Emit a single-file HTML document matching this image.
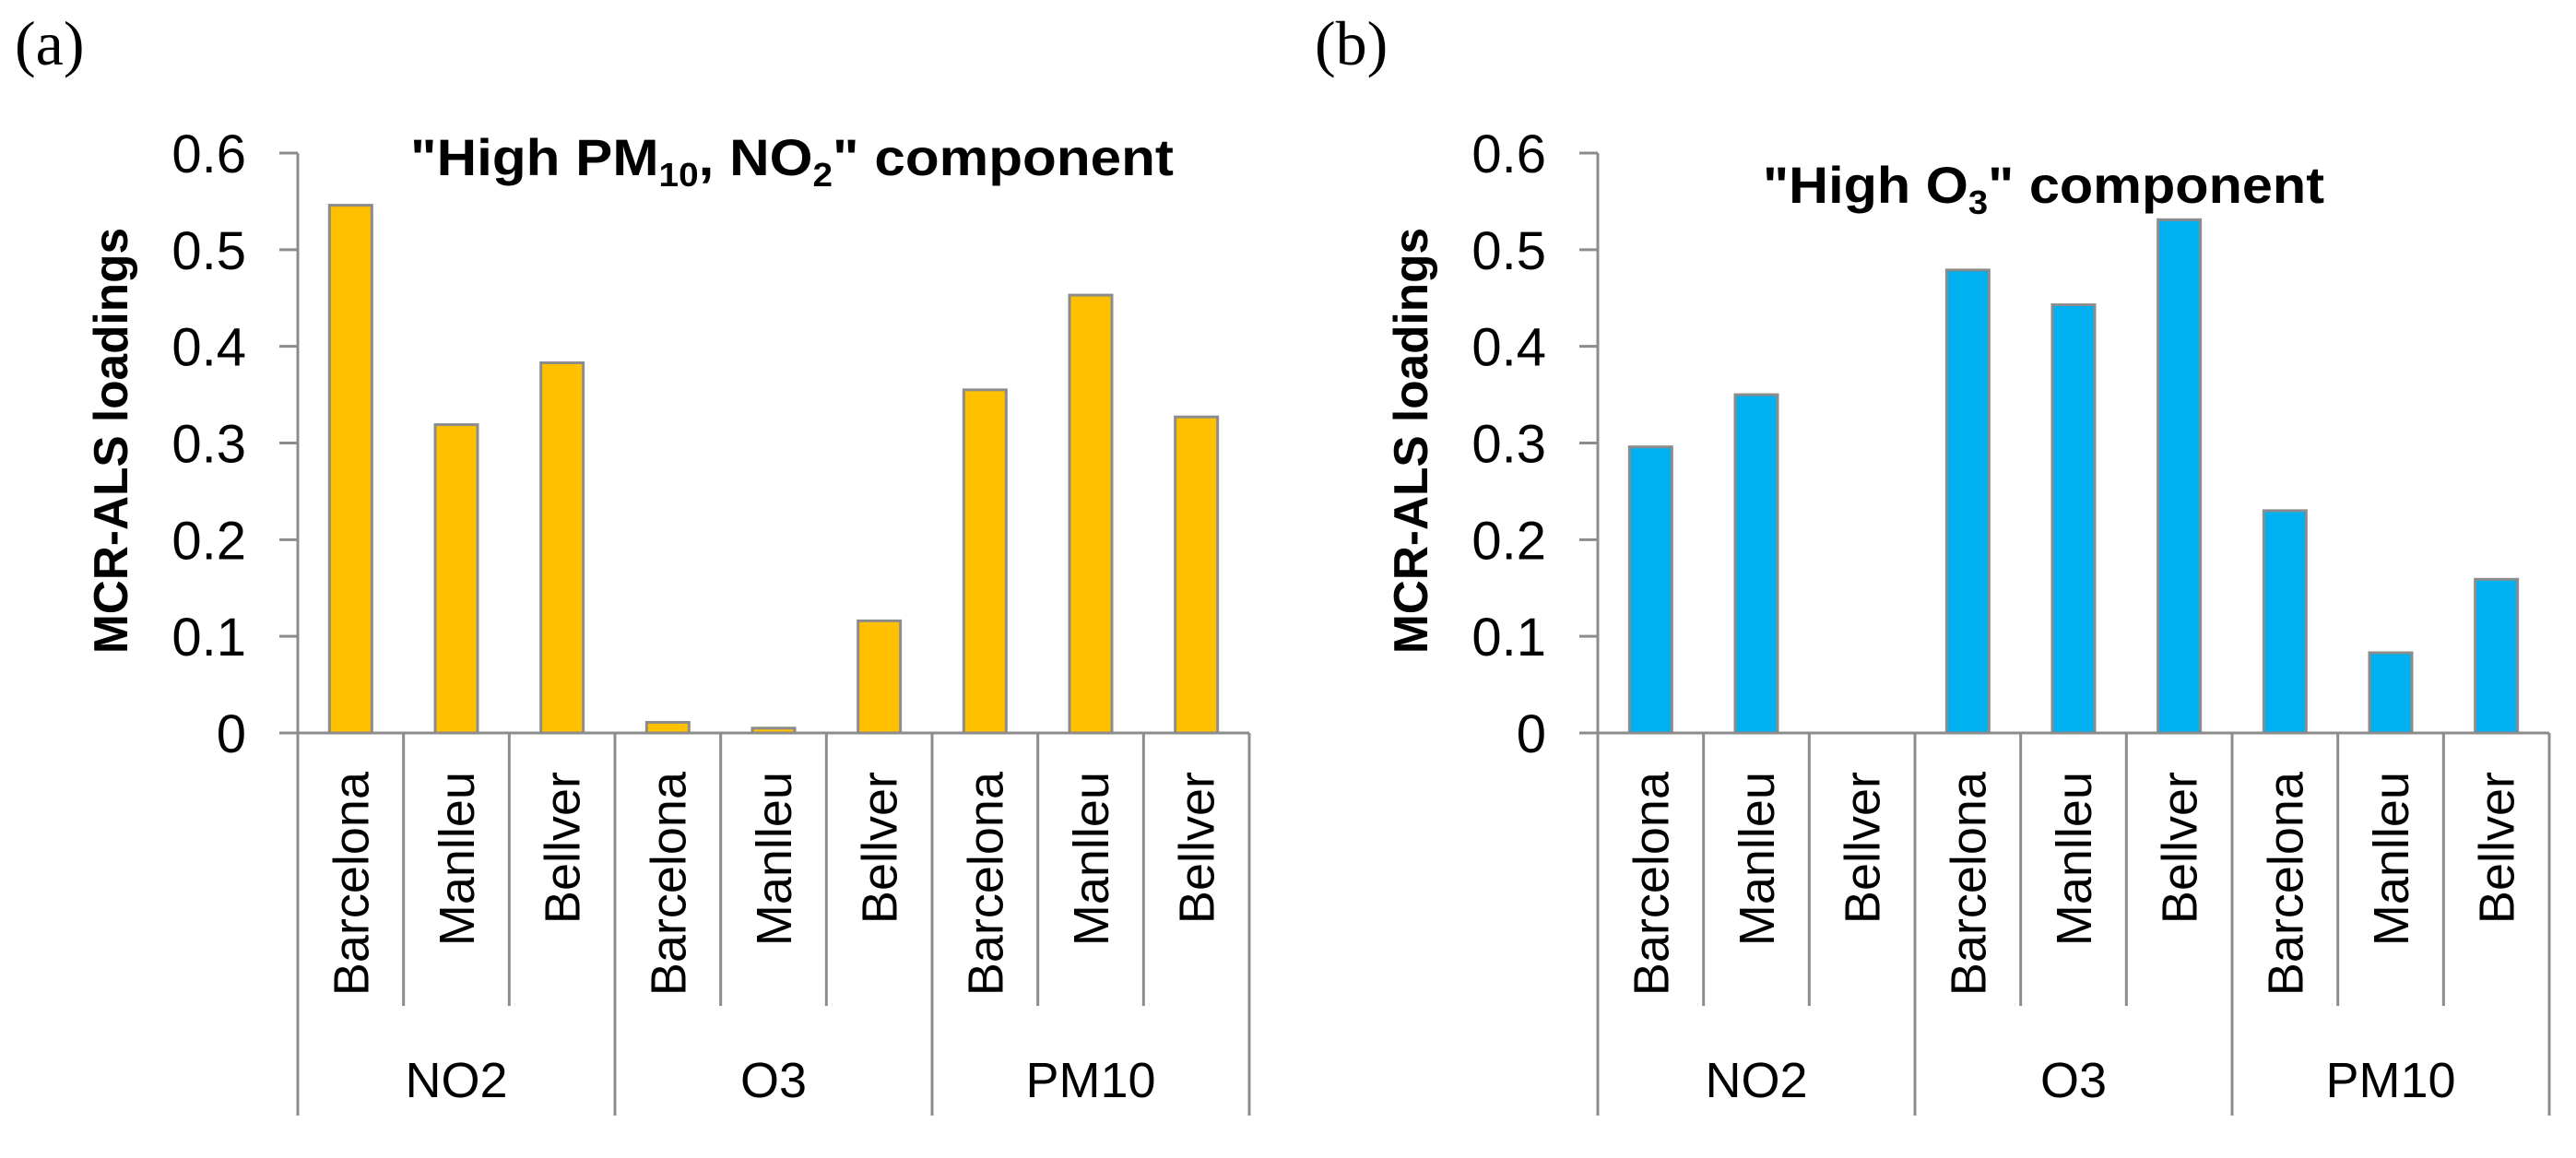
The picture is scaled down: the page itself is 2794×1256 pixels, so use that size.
<!DOCTYPE html>
<html><head><meta charset="utf-8"><style>
html,body{margin:0;padding:0;background:#fff;}
svg{display:block;}
</style></head><body>
<svg id="fig" width="2794" height="1256" xmlns="http://www.w3.org/2000/svg" font-family="'Liberation Sans', sans-serif"></svg>
<script>
const groups = ["NO2", "O3", "PM10"];
const sites = ["Barcelona", "Manlleu", "Bellver"];
const yTicks = [0, 0.1, 0.2, 0.3, 0.4, 0.5, 0.6];
const yTickLabels = ["0", "0.1", "0.2", "0.3", "0.4", "0.5", "0.6"];
const valuesA = [0.546, 0.319, 0.383, 0.011, 0.005, 0.116, 0.355, 0.453, 0.327];
const valuesB = [0.296, 0.350, 0, 0.479, 0.443, 0.531, 0.230, 0.083, 0.159];

const NS = "http://www.w3.org/2000/svg";
const svg = document.getElementById('fig');
function mk(tag, attrs, parent, text){
  const e = document.createElementNS(NS, tag);
  for (const k in attrs) e.setAttribute(k, attrs[k]);
  if (text !== undefined) e.textContent = text;
  parent.appendChild(e);
  return e;
}
const Y0 = 795, Y6 = 166, W = 1032;
function yScale(v){ return Y0 - (v/0.6)*(Y0-Y6); }

function panel(ox, vals, color, letter, titleParts, titleX, titleY, titleW, key){
  const g = mk('g', {}, svg);
  
  
  const n = groups.length * sites.length;
  const cw = W / n;
  const xScale = i => ox + cw * (i + 0.5);
  const lab = mk('text', {x: ox - 307, y: 70, 'font-family': "'Liberation Serif', serif", 'font-size': 68, fill: '#000'}, g, '(' + letter + ')');
  
  
  vals.forEach((v, i) => {
    if (v <= 0) return;
    const bw = 46;
    const r = mk('rect', {x: xScale(i) - bw/2, y: yScale(v), width: bw, height: Y0 - yScale(v), fill: color, stroke: '#8c8c8c', 'stroke-width': 3}, g);
    
    
  });
  const ax = mk('line', {x1: ox, y1: Y6, x2: ox, y2: 1210, stroke: '#8c8c8c', 'stroke-width': 3}, g);
  
  
  yTicks.forEach((t, k) => {
    const y = yScale(t);
    mk('line', {x1: ox - 20, y1: y, x2: ox, y2: y, stroke: '#8c8c8c', 'stroke-width': 3}, g);
    const tl = mk('text', {x: ox - 56, y: y + 21, 'text-anchor': 'end', 'font-size': 58, fill: '#000'}, g, yTickLabels[k]);
    
    
  });
  const xa = mk('line', {x1: ox - 20, y1: Y0, x2: ox + W, y2: Y0, stroke: '#8c8c8c', 'stroke-width': 3}, g);
  
  
  for (let i = 1; i <= n; i++){
    const x = ox + cw * i;
    const grp = (i % 3 === 0);
    mk('line', {x1: x, y1: Y0, x2: x, y2: grp ? 1210 : 1091, stroke: '#8c8c8c', 'stroke-width': 3}, g);
  }
  for (let i = 0; i < n; i++){
    const x = xScale(i) + 19;
    const t = mk('text', {x: x, y: 837, transform: `rotate(-90 ${x} 837)`, 'text-anchor': 'end', 'font-size': 54, fill: '#000'}, g, sites[i % 3]);
    
    
  }
  groups.forEach((gname, j) => {
    const t = mk('text', {x: ox + cw * (3*j + 1.5), y: 1190, 'text-anchor': 'middle', 'font-size': 54, fill: '#000'}, g, gname);
    
    
  });
  const yx = ox - 185, yy = 478;
  const yt = mk('text', {x: yx, y: yy, transform: `rotate(-90 ${yx} ${yy})`, 'text-anchor': 'middle', 'font-size': 52, 'font-weight': 'bold', textLength: 462, lengthAdjust: 'spacingAndGlyphs', fill: '#000'}, g, 'MCR-ALS loadings');
  
  
  const tt = mk('text', {x: titleX, y: titleY, 'font-size': 56, 'font-weight': 'bold', textLength: titleW, lengthAdjust: 'spacingAndGlyphs', fill: '#000'}, g);
  
  
  titleParts.forEach(p => {
    mk('tspan', p.sub ? {'font-size': 36, dy: 12} : (p.after ? {dy: -12} : {}), tt, p.t);
  });
}
panel(323, valuesA, '#FFC000', 'a',
  [{t:'"High PM'},{t:'10',sub:true},{t:', NO',after:true},{t:'2',sub:true},{t:'" component',after:true}],
  445, 190, 828, 'a');
panel(1733, valuesB, '#00B0F0', 'b',
  [{t:'"High O'},{t:'3',sub:true},{t:'" component',after:true}],
  1912, 220, 609, 'b');
</script>
</body></html>
